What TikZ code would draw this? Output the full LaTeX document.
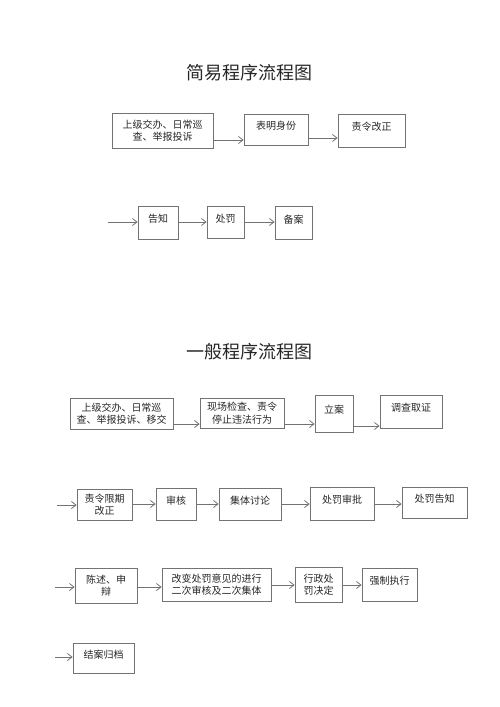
\documentclass[tikz,border=0pt]{standalone}
\usepackage{fontspec}
\newfontfamily\cjk{Noto Sans CJK SC}
\usetikzlibrary{arrows.meta}
\tikzset{
	box/.style 2 args={draw=black!55, line width=0.8pt, text=black!85,
		font=\cjk\fontsize{10}{12.5}\selectfont, align=center, inner sep=1pt,
		minimum width=#1pt, minimum height=#2pt},
	one/.style={text depth=8pt},
	arr/.style={draw=black!55, line width=0.8pt, -{Straight Barb[length=4.5pt,width=7pt]}},
	title/.style={text=black!85, font=\cjk\fontsize{18}{20}\selectfont}
}

\begin{document}
\begin{tikzpicture}[x=1pt,y=-1pt]
	\useasboundingbox (0,0) rectangle (500,707);
	% simple procedure
	\node[title] (t1) at (249,73) {简易程序流程图};
	\node[box={101}{35}] (sA) at (162.5,130.5) {上级交办、日常巡\\查、举报投诉};
	\node[box={64}{31},one] (sB) at (276,129.5) {表明身份};
	\node[box={67}{33},one] (sC) at (371.5,130.5) {责令改正};
	\draw[arr] (sA.east |- 0,140) -- (sB.west |- 0,140);
	\draw[arr] (sB.east |- 0,138) -- (sC.west |- 0,138);
	\coordinate (in1) at (108,222);
	\node[box={40}{33},one] (sD) at (158,222.5) {告知};
	\node[box={37}{32},one] (sE) at (225.5,222) {处罚};
	\node[box={37}{33},one] (sF) at (293.5,223) {备案};
	\draw[arr] (in1) -- (in1 -| sD.west);
	\draw[arr] (sD.east |- 0,222) -- (sE.west |- 0,222);
	\draw[arr] (sE.east |- 0,222) -- (sF.west |- 0,222);
	% general procedure
	\node[title] (t2) at (249,352) {一般程序流程图};
	\node[box={103}{31}] (gA) at (121.5,413.5) {上级交办、日常巡\\查、举报投诉、移交};
	\node[box={84}{30}] (gB) at (242,413) {现场检查、责令\\停止违法行为};
	\node[box={38}{37},one] (gC) at (334,413.5) {立案};
	\node[box={62}{33},one] (gD) at (411,411.5) {调查取证};
	\draw[arr] (gA.east |- 0,424) -- (gB.west |- 0,424);
	\draw[arr] (gB.east |- 0,424) -- (gC.west |- 0,424);
	\draw[arr] (gC.east |- 0,426) -- (gD.west |- 0,426);
	\coordinate (in2) at (57,505);
	\node[box={55}{31}] (gE) at (104.5,504.5) {责令限期\\改正};
	\node[box={40}{32},one] (gF) at (176,504) {审核};
	\node[box={62}{32},one] (gG) at (250,504) {集体讨论};
	\node[box={64}{33},one] (gH) at (342,503.5) {处罚审批};
	\node[box={65}{31},one] (gI) at (434.5,502.5) {处罚告知};
	\draw[arr] (in2) -- (in2 -| gE.west);
	\draw[arr] (gE.east |- 0,504) -- (gF.west |- 0,504);
	\draw[arr] (gF.east |- 0,504) -- (gG.west |- 0,504);
	\draw[arr] (gG.east |- 0,504) -- (gH.west |- 0,504);
	\draw[arr] (gH.east |- 0,504) -- (gI.west |- 0,504);
	\coordinate (in3) at (55,587);
	\node[box={62}{35}] (gJ) at (106,585.5) {陈述、申\\辩};
	\node[box={109}{33}] (gK) at (216.5,584.5) {改变处罚意见的进行\\二次审核及二次集体};
	\node[box={47}{35}] (gL) at (318.5,584.5) {行政处\\罚决定};
	\node[box={55}{33},one] (gM) at (389.5,584.5) {强制执行};
	\draw[arr] (in3) -- (in3 -| gJ.west);
	\draw[arr] (gJ.east |- 0,587) -- (gK.west |- 0,587);
	\draw[arr] (gK.east |- 0,585) -- (gL.west |- 0,585);
	\draw[arr] (gL.east |- 0,585) -- (gM.west |- 0,585);
	\coordinate (in4) at (55,657);
	\node[box={61}{30},one] (gN) at (103.5,658) {结案归档};
	\draw[arr] (in4) -- (in4 -| gN.west);
\end{tikzpicture}
\end{document}
